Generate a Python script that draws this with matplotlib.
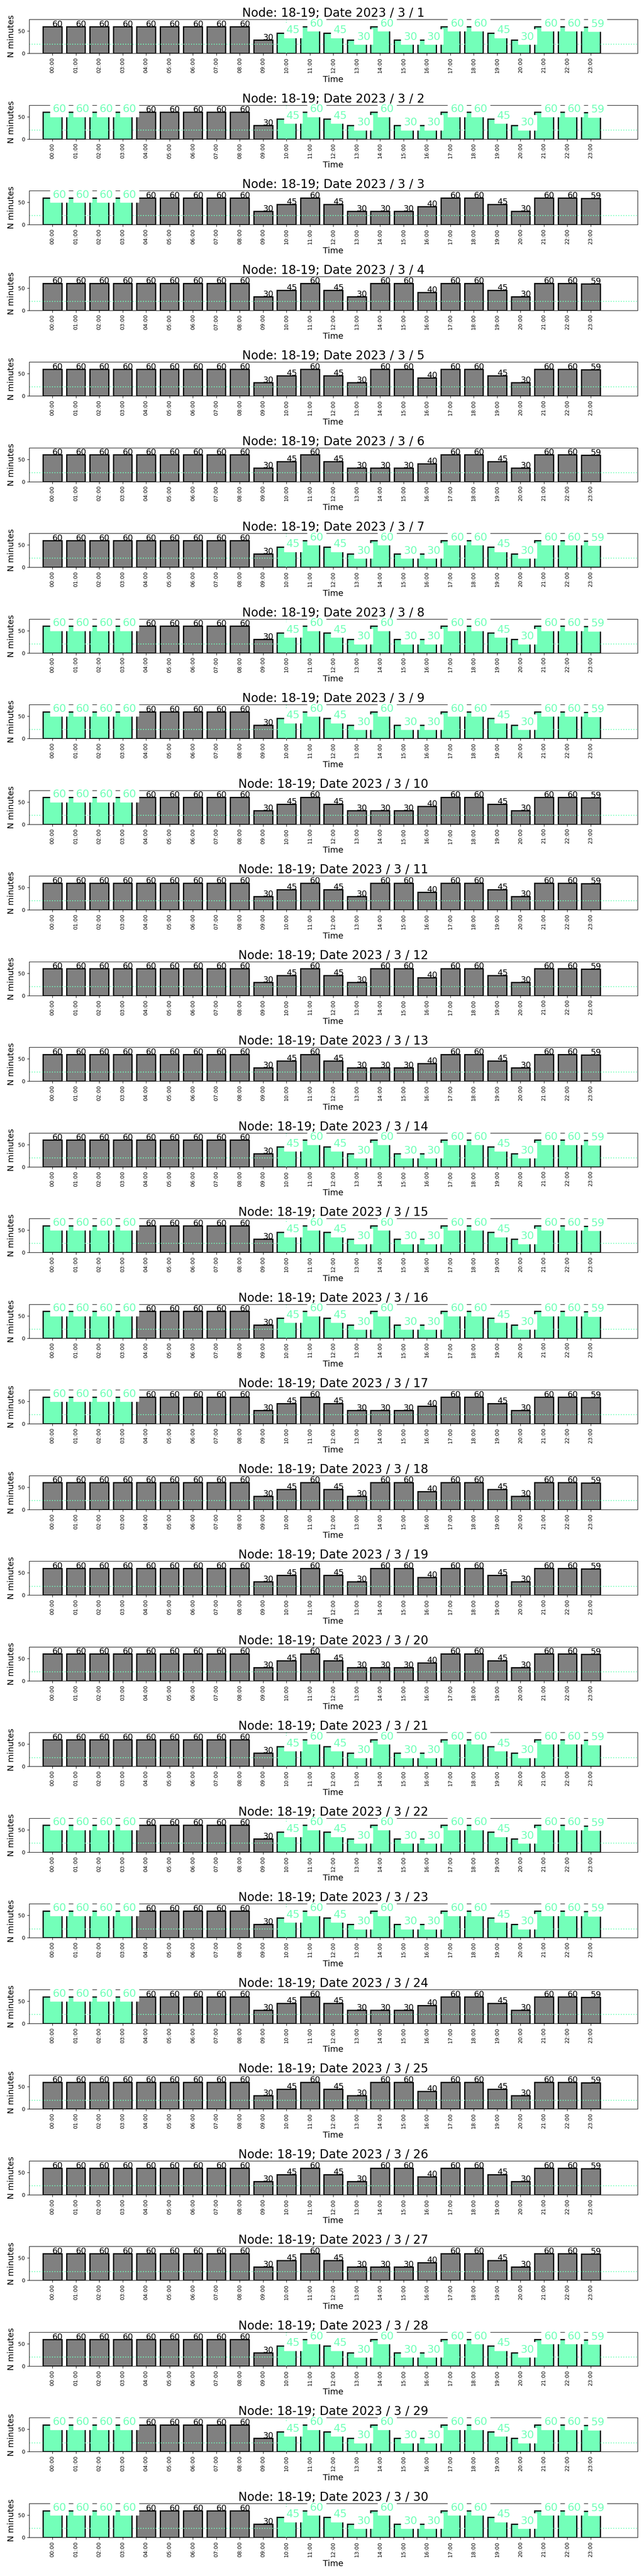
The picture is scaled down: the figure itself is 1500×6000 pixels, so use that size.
import matplotlib
matplotlib.use("Agg")
import matplotlib.pyplot as plt

# hour labels on the x axis
hours = ["00:00", "01:00", "02:00", "03:00", "04:00", "05:00",
         "06:00", "07:00", "08:00", "09:00", "10:00", "11:00",
         "12:00", "13:00", "14:00", "15:00", "16:00", "17:00",
         "18:00", "19:00", "20:00", "21:00", "22:00", "23:00"]

# minutes per hour, 00:00-11:00 (same on every day)
morning = [60, 60, 60, 60, 60, 60, 60, 60, 60, 30, 45, 60]
# minutes per hour, 12:00-23:00 (three kinds of day)
afternoon = {"A": [45, 30, 60, 30, 30, 60, 60, 45, 30, 60, 60, 59],
             "B": [45, 30, 30, 30, 40, 60, 60, 45, 30, 60, 60, 59],
             "C": [45, 30, 60, 60, 40, 60, 60, 45, 30, 60, 60, 59]}
# which afternoon each day of march has (day 1..30)
day_kind = "AABCCBAAABCCBAAABCCBAAABCCBAAA"

# days whose 00:00-03:00 hours are flagged
early_days = [2, 3, 8, 9, 10, 15, 16, 17, 22, 23, 24, 29, 30]
early_hours = [0, 1, 2, 3]
# days whose 10:00-23:00 hours are flagged
late_days = [1, 2, 7, 8, 9, 14, 15, 16, 21, 22, 23, 28, 29, 30]
late_hours = list(range(10, 24))

threshold = 20
node = "18-19"
mint = "#73FFB9"

fig, axes = plt.subplots(30, 1, figsize=(15, 60), dpi=100)
fig.subplots_adjust(left=0.045, right=0.99, top=0.9925, bottom=0.015,
                    hspace=1.525)

for k, ax in enumerate(axes):
    day = k + 1
    values = morning + afternoon[day_kind[k]]
    flagged = []
    if day in early_days:
        flagged += early_hours
    if day in late_days:
        flagged += late_hours
    colors = [mint if i in flagged else "gray" for i in range(24)]
    ax.bar(range(24), values, width=0.8, color=colors,
           edgecolor="black", linewidth=2)
    ax.axhline(threshold, color=mint, ls=":", lw=1.6)
    if day in late_days:
        ax.axvline(late_hours[0], color=mint, ls=":", lw=1.6)
    for i, v in enumerate(values):
        if i in flagged:
            ax.text(i, v, str(v), fontsize=18, color=mint,
                    bbox=dict(facecolor="white", edgecolor="white"))
        else:
            ax.text(i, v, str(v), fontsize=14, color="black")
    ax.set_xlim(-1, 25)
    ax.set_ylim(0, 76)
    ax.set_xticks(range(24))
    ax.set_xticklabels(hours, rotation=90, fontsize=9)
    ax.set_yticks([0, 50])
    ax.tick_params(axis="y", labelsize=9)
    ax.set_title("Node: {}; Date 2023 / 3 / {}".format(node, day),
                 fontsize=20, pad=1.5)
    ax.set_xlabel("Time", fontsize=14)
    ax.set_ylabel("N minutes", fontsize=14)

fig.savefig("out.png", dpi=100)
